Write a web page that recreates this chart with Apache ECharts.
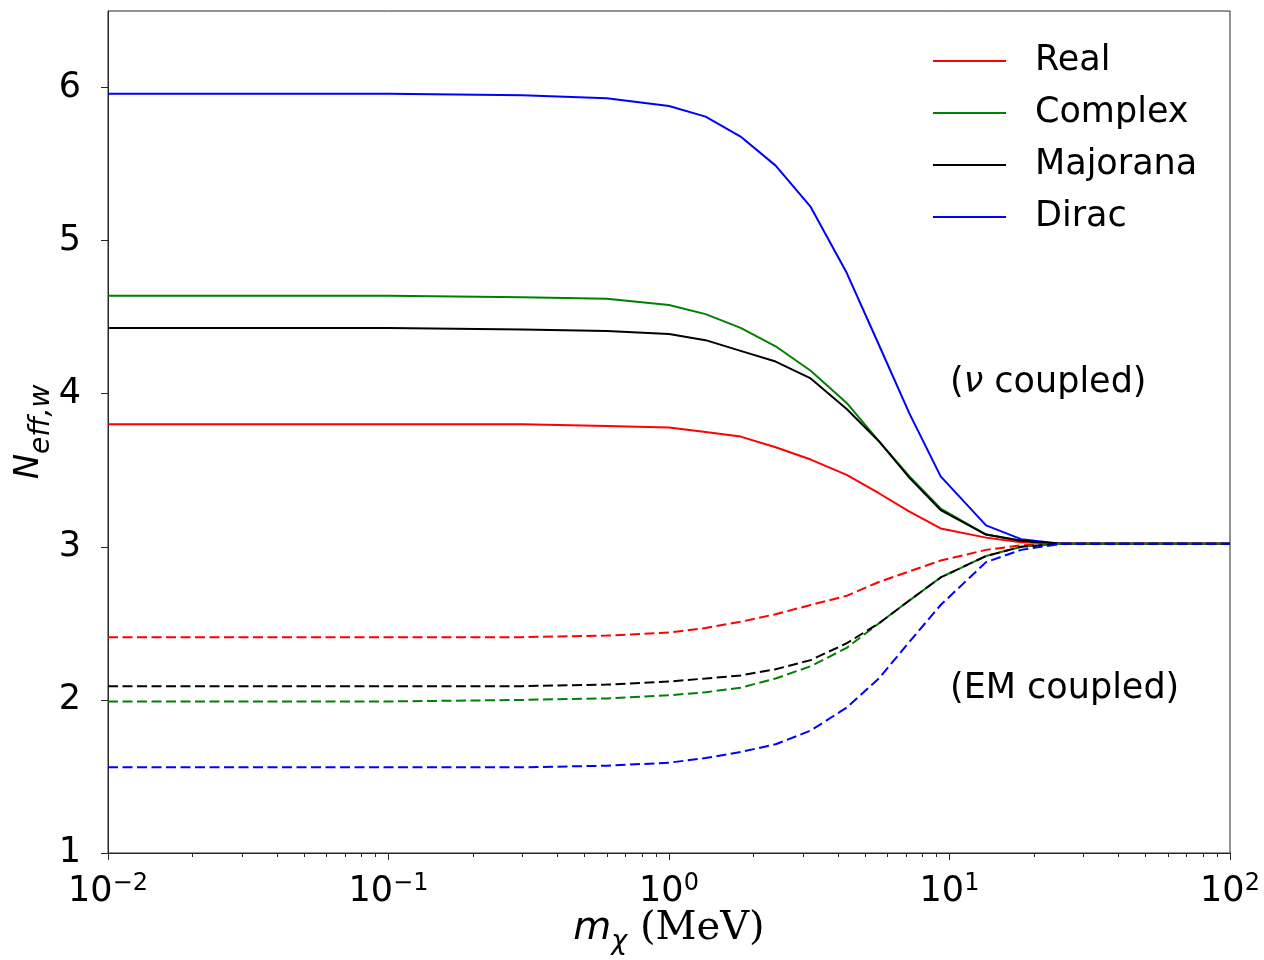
<!DOCTYPE html>
<html>
<head>
<meta charset="utf-8">
<title>N_eff,w vs dark particle mass</title>
<script src="https://cdn.jsdelivr.net/npm/echarts@6/dist/echarts.min.js"></script>
<style>
  html, body { margin: 0; padding: 0; background: #ffffff; }
  #chart { width: 1264px; height: 960px; }
</style>
</head>
<body>
<div id="chart"></div>
<script>
// Mass of the light particle (MeV), shared by every curve
const massMeV = [0.01, 0.03, 0.1, 0.3, 0.6, 1.0, 1.35, 1.8, 2.4, 3.2, 4.3, 5.6, 7.2, 9.3, 13.5, 18, 25, 40, 100];

// Neutrino-coupled species (solid lines)
const realNu     = [3.80, 3.80, 3.80, 3.80, 3.79, 3.78, 3.75, 3.72, 3.65, 3.57, 3.47, 3.35, 3.23, 3.12, 3.06, 3.03, 3.02, 3.02, 3.02];
const complexNu  = [4.64, 4.64, 4.64, 4.63, 4.62, 4.58, 4.52, 4.43, 4.31, 4.15, 3.94, 3.69, 3.46, 3.25, 3.08, 3.04, 3.02, 3.02, 3.02];
const majoranaNu = [4.43, 4.43, 4.43, 4.42, 4.41, 4.39, 4.35, 4.28, 4.21, 4.10, 3.90, 3.69, 3.45, 3.24, 3.08, 3.04, 3.02, 3.02, 3.02];
const diracNu    = [5.96, 5.96, 5.96, 5.95, 5.93, 5.88, 5.81, 5.68, 5.49, 5.22, 4.79, 4.32, 3.87, 3.46, 3.14, 3.05, 3.02, 3.02, 3.02];

// Electromagnetically coupled species (dashed lines)
const realEM     = [2.41, 2.41, 2.41, 2.41, 2.42, 2.44, 2.47, 2.51, 2.56, 2.62, 2.68, 2.77, 2.84, 2.91, 2.98, 3.01, 3.02, 3.02, 3.02];
const complexEM  = [1.99, 1.99, 1.99, 2.00, 2.01, 2.03, 2.05, 2.08, 2.14, 2.22, 2.34, 2.50, 2.65, 2.80, 2.94, 3.00, 3.02, 3.02, 3.02];
const majoranaEM = [2.09, 2.09, 2.09, 2.09, 2.10, 2.12, 2.14, 2.16, 2.20, 2.26, 2.37, 2.50, 2.65, 2.80, 2.94, 3.00, 3.02, 3.02, 3.02];
const diracEM    = [1.56, 1.56, 1.56, 1.56, 1.57, 1.59, 1.62, 1.66, 1.71, 1.80, 1.95, 2.14, 2.38, 2.62, 2.90, 2.98, 3.02, 3.02, 3.02];

// Legend entries and axis ticks
const speciesNames = ['Real', 'Complex', 'Majorana', 'Dirac'];
const yTickValues = [1, 2, 3, 4, 5, 6];
const xDecades = [-2, -1, 0, 1];
const minorMultipliers = [2, 3, 4, 5, 6, 7, 8, 9];

const FONT = 'DejaVu Sans';
const AXIS_COLOR = '#262626';
const colors = { Real: '#ff0000', Complex: '#008000', Majorana: '#000000', Dirac: '#0000ff' };

function pairs(ys) {
  return massMeV.map((m, i) => [m, ys[i]]);
}

function lineSeries(name, ys, dashed) {
  return {
    type: 'line',
    name: name,
    data: pairs(ys),
    color: colors[name],
    showSymbol: false,
    symbol: 'none',
    silent: true,
    animation: false,
    lineStyle: {
      color: colors[name],
      width: 2,
      type: dashed ? [10, 4.5] : 'solid'
    },
    z: dashed ? 3 : 2
  };
}

// minor tick positions of the logarithmic mass axis (2..9 within each decade)
const minorTickValues = [];
xDecades.forEach(d => minorMultipliers.forEach(m => minorTickValues.push(m * Math.pow(10, d))));

const chart = echarts.init(document.getElementById('chart'), null, { renderer: 'canvas' });

chart.setOption({
  animation: false,
  backgroundColor: '#ffffff',
  textStyle: { fontFamily: FONT },
  grid: {
    left: 108, right: 34, top: 11, bottom: 107,
    containLabel: false,
    outerBoundsMode: 'none',
    show: true, borderColor: AXIS_COLOR, borderWidth: 1, backgroundColor: 'transparent'
  },
  legend: {
    data: speciesNames,
    orient: 'vertical',
    left: 928,
    top: 36,
    icon: 'rect',
    itemWidth: 73,
    itemHeight: 2,
    itemGap: 12,
    selectedMode: false,
    textStyle: { fontFamily: FONT, fontSize: 35, color: '#000', lineHeight: 40, padding: [0, 0, 0, 24] }
  },
  xAxis: [
    {
      type: 'log',
      logBase: 10,
      min: 0.01,
      max: 100,
      position: 'bottom',
      name: '{m|m}{c|χ}{r| (MeV)}',
      nameLocation: 'middle',
      nameMoveOverlap: false,
      nameGap: 52,
      nameTextStyle: {
        rich: {
          m: { fontFamily: FONT, fontStyle: 'italic', fontSize: 39, color: '#000', lineHeight: 48 },
          c: { fontFamily: FONT, fontStyle: 'italic', fontSize: 27, color: '#000', lineHeight: 48, padding: [26, 0, 0, 0] },
          r: { fontFamily: 'DejaVu Serif', fontSize: 40, color: '#000', lineHeight: 48 }
        }
      },
      axisLine: { show: true, onZero: false, lineStyle: { color: AXIS_COLOR, width: 1 } },
      axisTick: { show: true, inside: false, length: 7, lineStyle: { color: AXIS_COLOR, width: 1 } },
      minorTick: { show: false },
      splitLine: { show: false },
      axisLabel: {
        margin: 18,
        showMinLabel: true,
        showMaxLabel: true,
        formatter: function (v) {
          const e = Math.round(Math.log10(v));
          return '{b|10}{s|' + (e < 0 ? '\u2212' + (-e) : e) + '}';
        },
        rich: {
          b: { fontFamily: FONT, fontSize: 35, color: '#000', lineHeight: 42 },
          s: { fontFamily: FONT, fontSize: 24, color: '#000', lineHeight: 42, padding: [0, 0, 17, 0] }
        }
      }
    },
    {
      // carries only the short minor ticks of the mass axis
      type: 'log',
      logBase: 10,
      min: 0.01,
      max: 100,
      position: 'bottom',
      axisLine: { show: false },
      axisLabel: { show: false },
      splitLine: { show: false },
      axisTick: { show: true, inside: false, length: 4, customValues: minorTickValues, lineStyle: { color: AXIS_COLOR, width: 1 } }
    }
  ],
  yAxis: {
    type: 'value',
    min: 1,
    max: 6.5,
    interval: 1,
    name: '{n|N}{s|eff,w}',
    nameLocation: 'middle',
    nameMoveOverlap: false,
    nameGap: 59,
    nameTextStyle: {
      rich: {
        n: { fontFamily: FONT, fontStyle: 'italic', fontSize: 34, color: '#000', lineHeight: 40 },
        s: { fontFamily: FONT, fontStyle: 'italic', fontSize: 28, color: '#000', lineHeight: 40, padding: [25, 0, 0, 0] }
      }
    },
    axisLine: { show: true, onZero: false, lineStyle: { color: AXIS_COLOR, width: 1 } },
    axisTick: { show: true, inside: false, length: 7, customValues: yTickValues, lineStyle: { color: AXIS_COLOR, width: 1 } },
    splitLine: { show: false },
    axisLabel: {
      customValues: yTickValues,
      margin: 27,
      fontFamily: FONT,
      fontSize: 35,
      color: '#000'
    }
  },
  graphic: [
    {
      type: 'text',
      x: 950, y: 383,
      silent: true,
      style: {
        text: '({i|ν}{t| coupled)}',
        verticalAlign: 'middle',
        rich: {
          i: { fontFamily: FONT, fontStyle: 'italic', fontSize: 35, fill: '#000' },
          t: { fontFamily: FONT, fontSize: 35, fill: '#000' }
        },
        fontFamily: FONT, fontSize: 35, fill: '#000'
      }
    },
    {
      type: 'text',
      x: 950, y: 689,
      silent: true,
      style: {
        text: '(EM coupled)',
        verticalAlign: 'middle',
        fontFamily: FONT, fontSize: 35, fill: '#000'
      }
    }
  ],
  series: [
    lineSeries('Real', realNu, false),
    lineSeries('Complex', complexNu, false),
    lineSeries('Dirac', diracNu, false),
    lineSeries('Majorana', majoranaNu, false),
    lineSeries('Real', realEM, true),
    lineSeries('Complex', complexEM, true),
    lineSeries('Majorana', majoranaEM, true),
    lineSeries('Dirac', diracEM, true)
  ]
});
</script>
</body>
</html>
